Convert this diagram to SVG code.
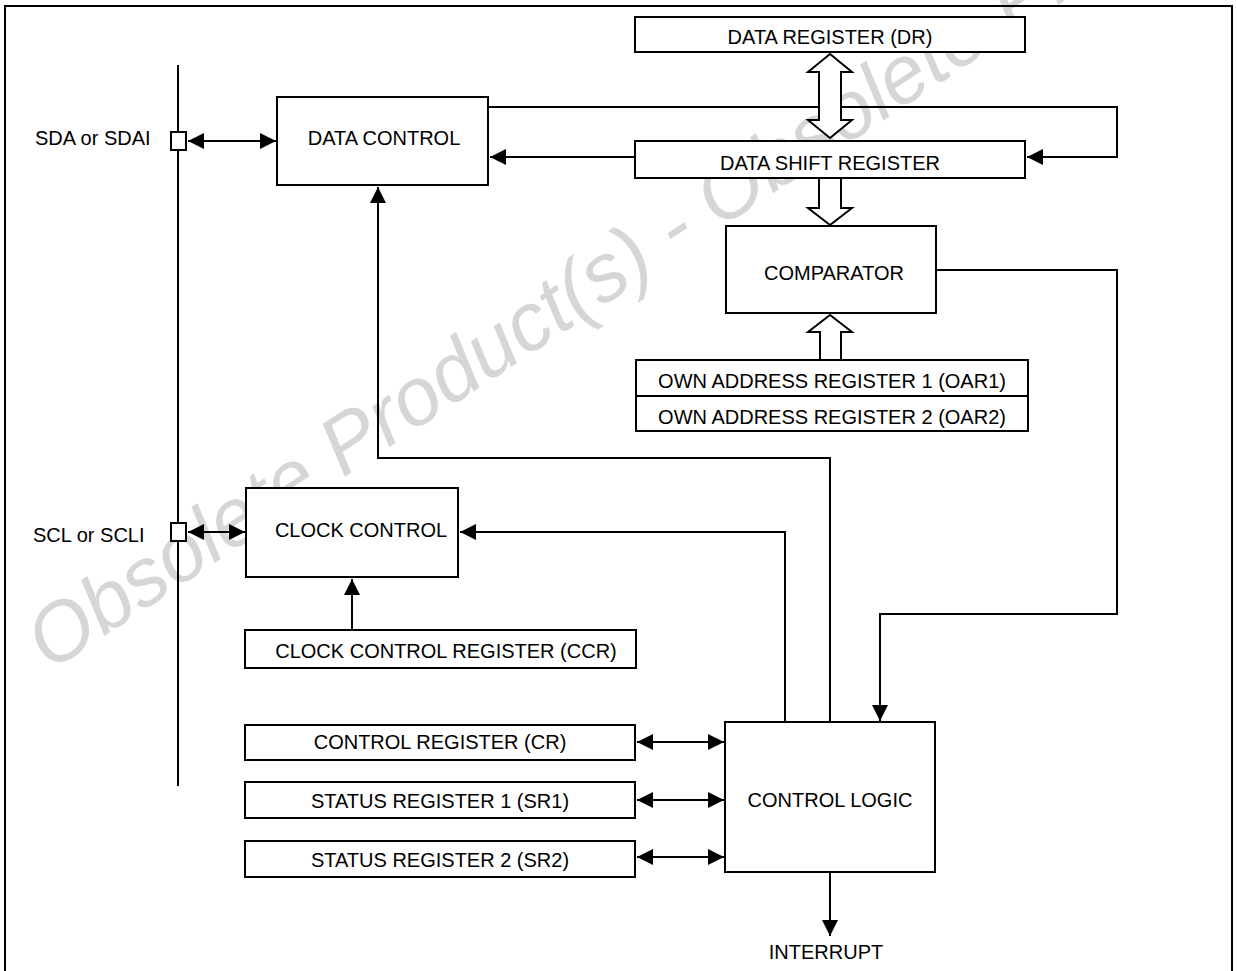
<svg xmlns="http://www.w3.org/2000/svg" width="1237" height="971" viewBox="0 0 1237 971">
<style>
.box{fill:#fff;stroke:#000;stroke-width:2}
.ln{fill:none;stroke:#000;stroke-width:2}
.hol{fill:#fff;stroke:#000;stroke-width:2;stroke-linejoin:miter}
.t{font-family:"Liberation Sans",Arial,sans-serif;font-size:20px;fill:#000;text-anchor:middle}
.ts{font-family:"Liberation Sans",Arial,sans-serif;font-size:20px;fill:#000}
.wm{font-family:"Liberation Sans",Arial,sans-serif;font-style:italic;font-size:82px;fill:#d6d6d6}
</style>
<defs>
<marker id="ah" markerUnits="userSpaceOnUse" markerWidth="16" markerHeight="16" refX="14" refY="7" orient="auto-start-reverse" viewBox="0 0 14 14">
<path d="M0,0 L14,7 L0,14 Z" fill="#000"/>
</marker>
</defs>
<rect width="1237" height="971" fill="#fff"/>
<text class="wm" x="50" y="672" transform="rotate(-33.5 50 672)">Obsolete Product(s) - Obsolete Product(s)</text>
<rect x="5" y="6" width="1227" height="975" fill="none" stroke="#000" stroke-width="2"/>

<g id="connectors">
<line class="ln" x1="178" y1="65" x2="178" y2="786"/>
<path class="ln" d="M488,107 H1117 V157 H1027" marker-end="url(#ah)"/>
<path class="ln" d="M635,157 H490" marker-end="url(#ah)"/>
<path class="ln" d="M936,270 H1117 V614 H880 V721" marker-end="url(#ah)"/>
<path class="ln" d="M830,722 V458 H378 V187" marker-end="url(#ah)"/>
<path class="ln" d="M785,722 V532 H460" marker-end="url(#ah)"/>
<path class="ln" d="M352,630 V579" marker-end="url(#ah)"/>
<path class="ln" d="M188,141 H276" marker-start="url(#ah)" marker-end="url(#ah)"/>
<path class="ln" d="M188,532 H245" marker-start="url(#ah)" marker-end="url(#ah)"/>
<path class="ln" d="M637,742 H724" marker-start="url(#ah)" marker-end="url(#ah)"/>
<path class="ln" d="M637,800 H724" marker-start="url(#ah)" marker-end="url(#ah)"/>
<path class="ln" d="M637,857 H724" marker-start="url(#ah)" marker-end="url(#ah)"/>
<path class="ln" d="M830,873 V936" marker-end="url(#ah)"/>
<path class="hol" d="M830,54 L852,72 L841,72 L841,120 L852,120 L830,138 L808,120 L819,120 L819,72 L808,72 Z"/>
<path class="hol" d="M819,179 L819,208 L808,208 L830,225 L852,208 L841,208 L841,179"/>
<path class="hol" d="M820,359 L820,332 L808,332 L830,315 L852,332 L841,332 L841,359"/>
</g>

<g id="sda-pin"><rect class="box" x="171" y="132" width="15" height="18"/><text class="ts" x="35" y="145">SDA or SDAI</text></g>
<g id="scl-pin"><rect class="box" x="171" y="523" width="15" height="18"/><text class="ts" x="33" y="542">SCL or SCLI</text></g>

<g id="data-register"><rect class="box" x="635" y="17" width="390" height="35"/><text class="t" x="830" y="44">DATA REGISTER (DR)</text></g>
<g id="data-shift-register"><rect class="box" x="635" y="141" width="390" height="37"/><text class="t" x="830" y="170">DATA SHIFT REGISTER</text></g>
<g id="data-control"><rect class="box" x="277" y="97" width="211" height="88"/><text class="t" x="384" y="145">DATA CONTROL</text></g>
<g id="comparator"><rect class="box" x="726" y="226" width="210" height="87"/><text class="t" x="834" y="280">COMPARATOR</text></g>
<g id="oar"><rect class="box" x="636" y="360" width="392" height="71"/><line class="ln" x1="636" y1="396" x2="1028" y2="396"/>
<text class="t" x="832" y="388">OWN ADDRESS REGISTER 1 (OAR1)</text>
<text class="t" x="832" y="424">OWN ADDRESS REGISTER 2 (OAR2)</text></g>
<g id="clock-control"><rect class="box" x="246" y="488" width="212" height="89"/><text class="t" x="361" y="537">CLOCK CONTROL</text></g>
<g id="ccr"><rect class="box" x="245" y="630" width="391" height="38"/><text class="t" x="446" y="658">CLOCK CONTROL REGISTER (CCR)</text></g>
<g id="cr"><rect class="box" x="245" y="725" width="390" height="35"/><text class="t" x="440" y="749">CONTROL REGISTER (CR)</text></g>
<g id="sr1"><rect class="box" x="245" y="782" width="390" height="36"/><text class="t" x="440" y="808">STATUS REGISTER 1 (SR1)</text></g>
<g id="sr2"><rect class="box" x="245" y="841" width="390" height="36"/><text class="t" x="440" y="867">STATUS REGISTER 2 (SR2)</text></g>
<g id="control-logic"><rect class="box" x="725" y="722" width="210" height="150"/><text class="t" x="830" y="807">CONTROL LOGIC</text></g>
<g id="interrupt"><text class="t" x="826" y="959">INTERRUPT</text></g>
</svg>
